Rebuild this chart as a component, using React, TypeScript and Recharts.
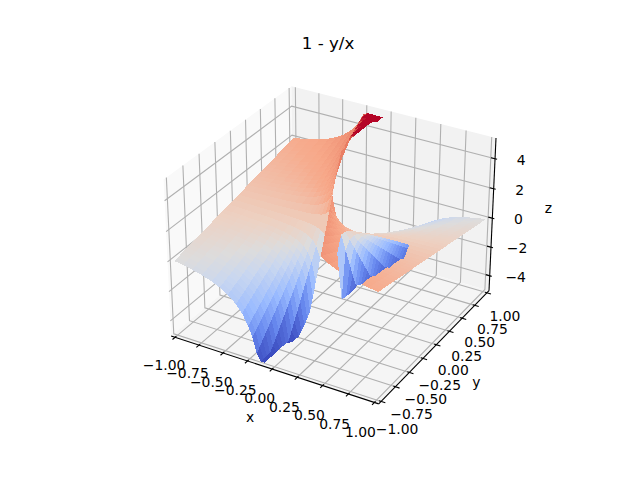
import React from "react";
import { ScatterChart, Scatter, XAxis, YAxis } from "recharts";

const n = null;

// grid of the surface
const xGrid = [-1, -0.91, -0.82, -0.72, -0.62, -0.54, -0.46, -0.38, -0.32, -0.26, -0.22, -0.18, -0.14, -0.1, -0.06,
  0.02, 0.06, 0.1, 0.14, 0.18, 0.22, 0.26, 0.32, 0.38, 0.46, 0.54, 0.62, 0.72, 0.82, 0.91, 1];
const yGrid = [-1, -0.95, -0.9, -0.85, -0.8, -0.75, -0.7, -0.65, -0.6, -0.55, -0.5, -0.45, -0.4, -0.35, -0.3, -0.25, -0.2,
  -0.12, -0.04, 0.04, 0.12,
  0.2, 0.25, 0.3, 0.35, 0.4, 0.45, 0.5, 0.55, 0.6, 0.65, 0.7, 0.75, 0.8, 0.85, 0.9, 0.95, 1];

// one row per xGrid entry, one value per yGrid entry, n = hole in the surface
const zValues = [
  [0, 0.05, 0.1, 0.15, 0.2, 0.25, 0.3, 0.35, 0.4, 0.45, 0.5, 0.55, 0.6, 0.65, 0.7, 0.75, 0.8,
    0.88, 0.96, 1.04, 1.12,
    1.2, 1.25, 1.3, 1.35, 1.4, 1.45, 1.5, 1.55, 1.6, 1.65, 1.7, 1.75, 1.8, 1.85, 1.9, 1.95, 2],
  [-0.1, -0.04, 0.01, 0.07, 0.12, 0.18, 0.23, 0.29, 0.34, 0.4, 0.45, 0.51, 0.56, 0.62, 0.67, 0.73, 0.78,
    0.87, 0.96, 1.04, 1.13,
    1.22, 1.27, 1.33, 1.38, 1.44, 1.49, 1.55, 1.6, 1.66, 1.71, 1.77, 1.82, 1.88, 1.93, 1.99, 2.04, 2.1],
  [-0.22, -0.16, -0.1, -0.04, 0.02, 0.09, 0.15, 0.21, 0.27, 0.33, 0.39, 0.45, 0.51, 0.57, 0.63, 0.7, 0.76,
    0.85, 0.95, 1.05, 1.15,
    1.24, 1.3, 1.37, 1.43, 1.49, 1.55, 1.61, 1.67, 1.73, 1.79, 1.85, 1.91, 1.98, 2.04, 2.1, 2.16, 2.22],
  [-0.39, -0.32, -0.25, -0.18, -0.11, -0.04, 0.03, 0.1, 0.17, 0.24, 0.31, 0.37, 0.44, 0.51, 0.58, 0.65, 0.72,
    0.83, 0.94, 1.06, 1.17,
    1.28, 1.35, 1.42, 1.49, 1.56, 1.63, 1.69, 1.76, 1.83, 1.9, 1.97, 2.04, 2.11, 2.18, 2.25, 2.32, 2.39],
  [-0.61, -0.53, -0.45, -0.37, -0.29, -0.21, -0.13, -0.05, 0.03, 0.11, 0.19, 0.27, 0.35, 0.44, 0.52, 0.6, 0.68,
    0.81, 0.94, 1.06, 1.19,
    1.32, 1.4, 1.48, 1.56, 1.65, 1.73, 1.81, 1.89, 1.97, 2.05, 2.13, 2.21, 2.29, 2.37, 2.45, 2.53, 2.61],
  [-0.85, -0.76, -0.67, -0.57, -0.48, -0.39, -0.3, -0.2, -0.11, -0.02, 0.07, 0.17, 0.26, 0.35, 0.44, 0.54, 0.63,
    0.78, 0.93, 1.07, 1.22,
    1.37, 1.46, 1.56, 1.65, 1.74, 1.83, 1.93, 2.02, 2.11, 2.2, 2.3, 2.39, 2.48, 2.57, 2.67, 2.76, 2.85],
  [-1.17, -1.07, -0.96, -0.85, -0.74, -0.63, -0.52, -0.41, -0.3, -0.2, -0.09, 0.02, 0.13, 0.24, 0.35, 0.46, 0.57,
    0.74, 0.91, 1.09, 1.26,
    1.43, 1.54, 1.65, 1.76, 1.87, 1.98, 2.09, 2.2, 2.3, 2.41, 2.52, 2.63, 2.74, 2.85, 2.96, 3.07, 3.17],
  [-1.63, -1.5, -1.37, -1.24, -1.11, -0.97, -0.84, -0.71, -0.58, -0.45, -0.32, -0.18, -0.05, 0.08, 0.21, 0.34, 0.47,
    0.68, 0.89, 1.11, 1.32,
    1.53, 1.66, 1.79, 1.92, 2.05, 2.18, 2.32, 2.45, 2.58, 2.71, 2.84, 2.97, 3.11, 3.24, 3.37, 3.5, 3.63],
  [-2.13, -1.97, -1.81, -1.66, -1.5, -1.34, -1.19, -1.03, -0.88, -0.72, -0.56, -0.41, -0.25, -0.09, 0.06, 0.22, 0.37,
    0.62, 0.87, 1.13, 1.38,
    1.63, 1.78, 1.94, 2.09, 2.25, 2.41, 2.56, 2.72, 2.88, 3.03, 3.19, 3.34, 3.5, 3.66, 3.81, 3.97, 4.13],
  [-2.85, -2.65, -2.46, -2.27, -2.08, -1.88, -1.69, -1.5, -1.31, -1.12, -0.92, -0.73, -0.54, -0.35, -0.15, 0.04, 0.23,
    0.54, 0.85, 1.15, 1.46,
    1.77, 1.96, 2.15, 2.35, 2.54, 2.73, 2.92, 3.12, 3.31, 3.5, 3.69, 3.88, 4.08, 4.27, 4.46, 4.65, 4.85],
  [-3.55, -3.32, -3.09, -2.86, -2.64, -2.41, -2.18, -1.95, -1.73, -1.5, -1.27, -1.05, -0.82, -0.59, -0.36, -0.14, 0.09,
    0.45, 0.82, 1.18, 1.55,
    1.91, 2.14, 2.36, 2.59, 2.82, 3.05, 3.27, 3.5, 3.73, 3.95, 4.18, 4.41, 4.64, 4.86, 5, 5, 5],
  [-4.56, -4.28, -4, -3.72, -3.44, -3.17, -2.89, -2.61, -2.33, -2.06, -1.78, -1.5, -1.22, -0.94, -0.67, -0.39, -0.11,
    0.33, 0.78, 1.22, 1.67,
    2.11, 2.39, 2.67, 2.94, 3.22, 3.5, 3.78, 4.06, 4.33, 4.61, 4.89, 5, 5, 5, 5, 5, 5],
  [-5, -5, -5, -5, -4.71, -4.36, -4, -3.64, -3.29, -2.93, -2.57, -2.21, -1.86, -1.5, -1.14, -0.79, -0.43,
    0.14, 0.71, 1.29, 1.86,
    2.43, 2.79, 3.14, 3.5, 3.86, 4.21, 4.57, 4.93, 5, 5, 5, 5, 5, 5, 5, 5, 5],
  [-5, -5, -5, -5, -5, -5, -5, -5, -5, -4.5, -4, -3.5, -3, -2.5, -2, -1.5, -1,
    -0.2, 0.6, 1.4, 2.2,
    3, 3.5, 4, 4.5, 5, 5, 5, 5, 5, 5, 5, 5, 5, 5, 5, 5, 5],
  [n, n, n, n, n, n, n, n, -5, -5, -5, -4.8, -4.6, -4.3, -4, -3.17, -2.33,
    -1, 0.33, 1.67, 3,
    4.33, 5, 5, n, n, n, n, n, n, n, n, n, n, n, 5, 5, 5],
  [n, n, n, n, n, n, n, n, n, n, n, n, n, n, n, n, n,
    5, 3, -1, -4.5,
    -4.6, -4.6, -4.6, n, n, n, n, n, n, n, n, n, n, n, n, n, n],
  [n, n, n, n, n, n, n, n, n, n, n, n, n, n, n, n, 4.33,
    3, 1.67, 0.33, -1,
    -2.33, -3.17, -4, -4.2, -4.4, -4.4, -4.4, n, n, n, n, n, n, n, n, n, n],
  [n, n, n, n, n, n, n, n, n, n, n, n, 5, 4.5, 4, 3.5, 3,
    2.2, 1.4, 0.6, -0.2,
    -1, -1.5, -2, -2.5, -3, -3.5, -4, -4.2, -4.4, -4.4, -4.4, n, n, n, n, n, n],
  [n, n, n, n, n, n, n, n, n, 4.93, 4.57, 4.21, 3.86, 3.5, 3.14, 2.79, 2.43,
    1.86, 1.29, 0.71, 0.14,
    -0.43, -0.79, -1.14, -1.5, -1.86, -2.21, -2.57, -2.93, -3.29, -3.64, -4, -4.2, -4.4, -4.4, -4.4, n, n],
  [n, n, n, n, n, n, 4.89, 4.61, 4.33, 4.06, 3.78, 3.5, 3.22, 2.94, 2.67, 2.39, 2.11,
    1.67, 1.22, 0.78, 0.33,
    -0.11, -0.39, -0.67, -0.94, -1.22, -1.5, -1.78, -2.06, -2.33, -2.61, -2.89, -3.17, -3.44, -3.72, -4, -4.2, -4.4],
  [n, n, n, 4.86, 4.64, 4.41, 4.18, 3.95, 3.73, 3.5, 3.27, 3.05, 2.82, 2.59, 2.36, 2.14, 1.91,
    1.55, 1.18, 0.82, 0.45,
    0.09, -0.14, -0.36, -0.59, -0.82, -1.05, -1.27, -1.5, -1.73, -1.95, -2.18, -2.41, -2.64, -2.86, -3.09, -3.32, -3.55],
  [4.85, 4.65, 4.46, 4.27, 4.08, 3.88, 3.69, 3.5, 3.31, 3.12, 2.92, 2.73, 2.54, 2.35, 2.15, 1.96, 1.77,
    1.46, 1.15, 0.85, 0.54,
    0.23, 0.04, -0.15, -0.35, -0.54, -0.73, -0.92, -1.12, -1.31, -1.5, -1.69, -1.88, -2.08, -2.27, -2.46, -2.65, -2.85],
  [4.13, 3.97, 3.81, 3.66, 3.5, 3.34, 3.19, 3.03, 2.88, 2.72, 2.56, 2.41, 2.25, 2.09, 1.94, 1.78, 1.63,
    1.38, 1.13, 0.87, 0.62,
    0.37, 0.22, 0.06, -0.09, -0.25, -0.41, -0.56, -0.72, -0.88, -1.03, -1.19, -1.34, -1.5, -1.66, -1.81, -1.97, -2.13],
  [3.63, 3.5, 3.37, 3.24, 3.11, 2.97, 2.84, 2.71, 2.58, 2.45, 2.32, 2.18, 2.05, 1.92, 1.79, 1.66, 1.53,
    1.32, 1.11, 0.89, 0.68,
    0.47, 0.34, 0.21, 0.08, -0.05, -0.18, -0.32, -0.45, -0.58, -0.71, -0.84, -0.97, -1.11, -1.24, -1.37, -1.5, -1.63],
  [3.17, 3.07, 2.96, 2.85, 2.74, 2.63, 2.52, 2.41, 2.3, 2.2, 2.09, 1.98, 1.87, 1.76, 1.65, 1.54, 1.43,
    1.26, 1.09, 0.91, 0.74,
    0.57, 0.46, 0.35, 0.24, 0.13, 0.02, -0.09, -0.2, -0.3, -0.41, -0.52, -0.63, -0.74, -0.85, -0.96, -1.07, -1.17],
  [2.85, 2.76, 2.67, 2.57, 2.48, 2.39, 2.3, 2.2, 2.11, 2.02, 1.93, 1.83, 1.74, 1.65, 1.56, 1.46, 1.37,
    1.22, 1.07, 0.93, 0.78,
    0.63, 0.54, 0.44, 0.35, 0.26, 0.17, 0.07, -0.02, -0.11, -0.2, -0.3, -0.39, -0.48, -0.57, -0.67, -0.76, -0.85],
  [2.61, 2.53, 2.45, 2.37, 2.29, 2.21, 2.13, 2.05, 1.97, 1.89, 1.81, 1.73, 1.65, 1.56, 1.48, 1.4, 1.32,
    1.19, 1.06, 0.94, 0.81,
    0.68, 0.6, 0.52, 0.44, 0.35, 0.27, 0.19, 0.11, 0.03, -0.05, -0.13, -0.21, -0.29, -0.37, -0.45, -0.53, -0.61],
  [2.39, 2.32, 2.25, 2.18, 2.11, 2.04, 1.97, 1.9, 1.83, 1.76, 1.69, 1.63, 1.56, 1.49, 1.42, 1.35, 1.28,
    1.17, 1.06, 0.94, 0.83,
    0.72, 0.65, 0.58, 0.51, 0.44, 0.37, 0.31, 0.24, 0.17, 0.1, 0.03, -0.04, -0.11, -0.18, -0.25, -0.32, -0.39],
  [2.22, 2.16, 2.1, 2.04, 1.98, 1.91, 1.85, 1.79, 1.73, 1.67, 1.61, 1.55, 1.49, 1.43, 1.37, 1.3, 1.24,
    1.15, 1.05, 0.95, 0.85,
    0.76, 0.7, 0.63, 0.57, 0.51, 0.45, 0.39, 0.33, 0.27, 0.21, 0.15, 0.09, 0.02, -0.04, -0.1, -0.16, -0.22],
  [2.1, 2.04, 1.99, 1.93, 1.88, 1.82, 1.77, 1.71, 1.66, 1.6, 1.55, 1.49, 1.44, 1.38, 1.33, 1.27, 1.22,
    1.13, 1.04, 0.96, 0.87,
    0.78, 0.73, 0.67, 0.62, 0.56, 0.51, 0.45, 0.4, 0.34, 0.29, 0.23, 0.18, 0.12, 0.07, 0.01, -0.04, -0.1],
  [2, 1.95, 1.9, 1.85, 1.8, 1.75, 1.7, 1.65, 1.6, 1.55, 1.5, 1.45, 1.4, 1.35, 1.3, 1.25, 1.2,
    1.12, 1.04, 0.96, 0.88,
    0.8, 0.75, 0.7, 0.65, 0.6, 0.55, 0.5, 0.45, 0.4, 0.35, 0.3, 0.25, 0.2, 0.15, 0.1, 0.05, 0],
];

const xTicks = [-1, -0.75, -0.5, -0.25, 0, 0.25, 0.5, 0.75, 1];
const yTicks = [-1, -0.75, -0.5, -0.25, 0, 0.25, 0.5, 0.75, 1];
const zTicks = [-4, -2, 0, 2, 4];
const xTickLabels = ["\u22121.00", "\u22120.75", "\u22120.50", "\u22120.25", "0.00", "0.25", "0.50", "0.75", "1.00"];
const yTickLabels = ["\u22121.00", "\u22120.75", "\u22120.50", "\u22120.25", "0.00", "0.25", "0.50", "0.75", "1.00"];
const zTickLabels = ["\u22124", "\u22122", "0", "2", "4"];

// coolwarm
const colorStops = [0, 0.143, 0.286, 0.429, 0.5, 0.571, 0.714, 0.857, 1];
const colorValues = ["#3b4cc0", "#6788ee", "#9abbff", "#c9d7f0", "#dddcdc", "#edd1c2", "#f7a889", "#e26952", "#b40426"];

// axes3d camera, elev 30 azim -60
const zLow = -4.85;
const zHigh = 5.15;
const paneX = 1 + 2 / 48;
const zFloor = zLow - (zHigh - zLow) / 48;
const zRoof = zHigh + (zHigh - zLow) / 48;
const boxXY = (4 * 1.82946407) / Math.sqrt(41);
const boxZ = (3 * 1.82946407) / Math.sqrt(41);

const project = (x, y, z) => {
  const qx = (x / 2) * boxXY;
  const qy = (y / 2) * boxXY;
  const qz = ((z - zLow) / (zHigh - zLow) - 0.5) * boxZ;
  const depth = 0.4330127 * qx - 0.75 * qy + 0.5 * qz;
  const w = 10 - depth;
  const sx = (0.8660254 * qx + 0.5 * qy) / w;
  const sy = (-0.25 * qx + 0.4330127 * qy + 0.8660254 * qz) / w;
  return { px: 143.2 + ((sx + 0.095) / 0.185) * 369.6, py: 427.2 - ((sy + 0.095) / 0.185) * 369.6, depth };
};

const mark = (corners, style) => {
  const pts = corners.map((c) => project(c[0], c[1], c[2]));
  const { px, py } = pts[0];
  const depth = pts.reduce((s, p) => s + p.depth, 0) / pts.length;
  return { px, py, depth, pts: pts.map((p) => [p.px - px, p.py - py]), ...style };
};

// upper reds stay pale until the very top of the range, as in the picture
const toneOf = (z) => {
  if (z <= 2) return Math.max(0, (z + 5) / 10);
  if (z <= 4.8) return 0.7 + ((z - 2) / 2.8) * 0.13;
  return 0.83 + ((z - 4.8) / 0.2) * 0.17;
};

const colorOf = (z) => {
  const t = Math.min(1, toneOf(z));
  let i = 0;
  while (i < colorStops.length - 2 && t > colorStops[i + 1]) i++;
  const f = (t - colorStops[i]) / (colorStops[i + 1] - colorStops[i]);
  const parse = (h) => [1, 3, 5].map((k) => parseInt(h.slice(k, k + 2), 16));
  const a = parse(colorValues[i]);
  const b = parse(colorValues[i + 1]);
  const c = a.map((v, k) => Math.round(v + (b[k] - v) * f));
  return `rgb(${c[0]},${c[1]},${c[2]})`;
};

// surface cells, split in the three sheets the way they overlap in the picture
const sheets = [[], [], []];
xGrid.forEach((x, i) => {
  if (i === xGrid.length - 1 || x * xGrid[i + 1] < 0) return;
  yGrid.forEach((y, j) => {
    if (j === yGrid.length - 1) return;
    const x1 = xGrid[i + 1];
    const y1 = yGrid[j + 1];
    const corners = [[x, y, zValues[i][j]], [x1, y, zValues[i + 1][j]], [x1, y1, zValues[i + 1][j + 1]], [x, y1, zValues[i][j + 1]]]
      .filter((c) => c[2] !== null);
    if (corners.length < 3) return;
    const sheet = x < 0 ? 2 : y < 0 ? 0 : 1;
    const mean = corners.reduce((s, c) => s + c[2], 0) / corners.length;
    sheets[sheet].push(mark(corners, { fill: colorOf(mean), crisp: true }));
  });
});
const surface = sheets.flatMap((s) => s.sort((a, b) => a.depth - b.depth));

const panes = [
  mark([[-paneX, -paneX, zFloor], [-paneX, paneX, zFloor], [-paneX, paneX, zRoof], [-paneX, -paneX, zRoof]], { fill: "#f9f9f9" }),
  mark([[-paneX, paneX, zFloor], [paneX, paneX, zFloor], [paneX, paneX, zRoof], [-paneX, paneX, zRoof]], { fill: "#f2f2f2" }),
  mark([[-paneX, -paneX, zFloor], [paneX, -paneX, zFloor], [paneX, paneX, zFloor], [-paneX, paneX, zFloor]], { fill: "#f5f5f5" }),
];

const gridStyle = { stroke: "#b0b0b0", width: 1.1 };
const gridLines = [
  ...xTicks.map((t) => mark([[t, -paneX, zFloor], [t, paneX, zFloor], [t, paneX, zRoof]], gridStyle)),
  ...yTicks.map((t) => mark([[paneX, t, zFloor], [-paneX, t, zFloor], [-paneX, t, zRoof]], gridStyle)),
  ...zTicks.map((t) => mark([[-paneX, -paneX, t], [-paneX, paneX, t], [paneX, paneX, t]], gridStyle)),
];

const axisStyle = { stroke: "#000000", width: 1.1 };
const axisLines = [
  mark([[-paneX, -paneX, zFloor], [paneX, -paneX, zFloor]], axisStyle),
  mark([[paneX, -paneX, zFloor], [paneX, paneX, zFloor]], axisStyle),
  mark([[paneX, paneX, zFloor], [paneX, paneX, zRoof]], axisStyle),
  ...xTicks.map((t) => mark([[t, -paneX - 0.04, zFloor], [t, -paneX + 0.02, zFloor]], axisStyle)),
  ...yTicks.map((t) => mark([[paneX + 0.04, t, zFloor], [paneX - 0.02, t, zFloor]], axisStyle)),
  ...zTicks.map((t) => mark([[paneX + 0.02, paneX, t], [paneX - 0.04, paneX, t]], axisStyle)),
];

const mix = (a, b, t) => a + (b - a) * t;
const floorTick = (x, y, z, ox, oy, text) => {
  const p = project(x, y, z);
  return { px: p.px + ox, py: p.py + oy, text, size: 13.9 };
};
const labels = [
  ...xTicks.map((t, i) => {
    const f = i / 8;
    return floorTick(t, -paneX, zFloor, mix(-11, -14, f), mix(28, 30, f), xTickLabels[i]);
  }),
  ...yTicks.map((t, i) => {
    const f = i / 8;
    return floorTick(paneX, t, zFloor, mix(16, 18, f), mix(28, 23, f), yTickLabels[i]);
  }),
  ...zTicks.map((t, i) => floorTick(paneX, paneX, t, 26, 1, zTickLabels[i])),
  floorTick(0, -paneX, zFloor, -22, 48, "x"),
  floorTick(paneX, 0, zFloor, 40, 37, "y"),
  floorTick(paneX, paneX, 0, 56, -10, "z"),
  { px: 328, py: 43, text: "1 - y/x", size: 16.67 },
];

const MarkShape = (props) => {
  const { cx, cy, payload } = props;
  const d = payload.pts.map((p, i) => `${i ? "L" : "M"}${cx + p[0]} ${cy + p[1]}`).join("");
  return (
    <path
      d={payload.fill ? d + "Z" : d}
      fill={payload.fill || "none"}
      stroke={payload.stroke || "none"}
      strokeWidth={payload.width}
      shapeRendering={payload.crisp ? "crispEdges" : undefined}
    />
  );
};

const LabelShape = (props) => {
  const { cx, cy, payload } = props;
  return (
    <text x={cx} y={cy} textAnchor="middle" dominantBaseline="central" fontFamily="DejaVu Sans" fontSize={payload.size} fill="#000">
      {payload.text}
    </text>
  );
};

export default function App() {
  return (
    <div style={{ position: "absolute", left: 0, top: 0 }}>
      <ScatterChart width={640} height={480} margin={{ top: 0, right: 0, bottom: 0, left: 0 }}>
        <XAxis type="number" dataKey="px" domain={[0, 640]} hide />
        <YAxis type="number" dataKey="py" domain={[0, 480]} reversed hide />
        <Scatter data={panes} shape={MarkShape} isAnimationActive={false} />
        <Scatter data={gridLines} shape={MarkShape} isAnimationActive={false} />
        <Scatter data={axisLines} shape={MarkShape} isAnimationActive={false} />
        <Scatter data={surface} shape={MarkShape} isAnimationActive={false} />
        <Scatter data={labels} shape={LabelShape} isAnimationActive={false} />
      </ScatterChart>
    </div>
  );
}
